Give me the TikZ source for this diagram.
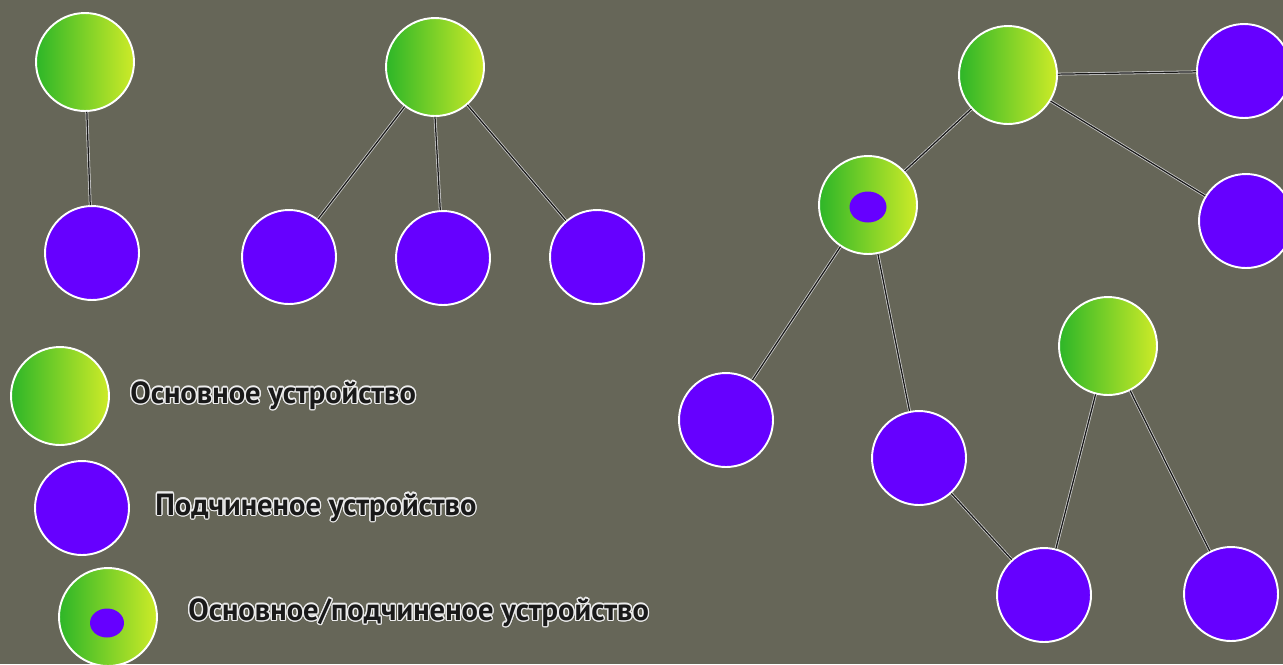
\documentclass[tikz,border=0pt]{standalone}
\usepackage{fontspec}
\setmainfont{PT Sans}
\usepackage{contour}
\usetikzlibrary{shapes.geometric}
\definecolor{bg}{RGB}{102,102,88}
\definecolor{gdark}{RGB}{45,182,40}
\definecolor{glight}{RGB}{205,235,40}
\definecolor{violet}{RGB}{102,0,255}
\definecolor{txt}{RGB}{25,25,25}
\contourlength{0.7pt}
\tikzset{
  master/.style={circle, draw=white, line width=1.1pt, inner sep=0pt, minimum size=1.96cm,
    left color=gdark, right color=glight, shading angle=90},
  slave/.style={circle, draw=white, line width=1.1pt, inner sep=0pt, minimum size=1.88cm, fill=violet},
  innerdot/.style={ellipse, fill=violet, inner sep=0pt, minimum width=0.74cm, minimum height=0.62cm},
  link/.style={draw=white!80!black, double=black!90, double distance=0.7pt, line width=0.45pt},
  legend/.style={anchor=west, inner sep=0pt, font=\bfseries\fontsize{17.4}{20}\selectfont, text=txt}
}
\begin{document}
\begin{tikzpicture}[x=0.02cm, y=-0.02cm]
\fill[bg] (0,0) rectangle (1283,664);
\useasboundingbox (0,0) rectangle (1283,664);
% group 1
\node[master] (m1) at (85,62) {};
\node[slave] (s1) at (92,253) {};
\draw[link] (m1) -- (s1);
% group 2
\node[master] (m2) at (435,67) {};
\node[slave] (s2a) at (289,257) {};
\node[slave] (s2b) at (443,258) {};
\node[slave] (s2c) at (597,257) {};
\draw[link] (m2) -- (s2a);
\draw[link] (m2.south) -- (s2b);
\draw[link] (m2) -- (s2c);
% network
\node[master] (m7) at (1008,75) {};
\node[slave] (s8) at (1244,71) {};
\node[slave] (s9) at (1246,221) {};
\node[master] (ms10) at (868,205) {};
\node[innerdot] (ms10i) at (868,207) {};
\node[slave] (s11) at (726,420) {};
\node[slave] (s12) at (919,458) {};
\node[master] (m13) at (1108,346) {};
\node[slave] (s14) at (1044,595) {};
\node[slave] (s15) at (1231,594) {};
\draw[link] (m7) -- (s8);
\draw[link] (m7) -- (s9);
\draw[link] (m7) -- (ms10);
\draw[link] (ms10) -- (s11);
\draw[link] (ms10) -- (s12);
\draw[link] (s12) -- (s14);
\draw[link] (m13) -- (s14);
\draw[link] (m13) -- (s15);
% legend
\node[master] (lm) at (60,396) {};
\node[legend] (lt1) at (130,396) {\contour{white!85!gray}{Основное устройство}};
\node[slave] (ls) at (82,508) {};
\node[legend] (lt2) at (155,508) {\contour{white!85!gray}{Подчиненое устройство}};
\node[master] (lms) at (108,617) {};
\node[innerdot, minimum width=0.68cm, minimum height=0.58cm] (lmsi) at (107,623) {};
\node[legend] (lt3) at (188,613) {\contour{white!85!gray}{Основное/подчиненое устройство}};
\end{tikzpicture}
\end{document}
